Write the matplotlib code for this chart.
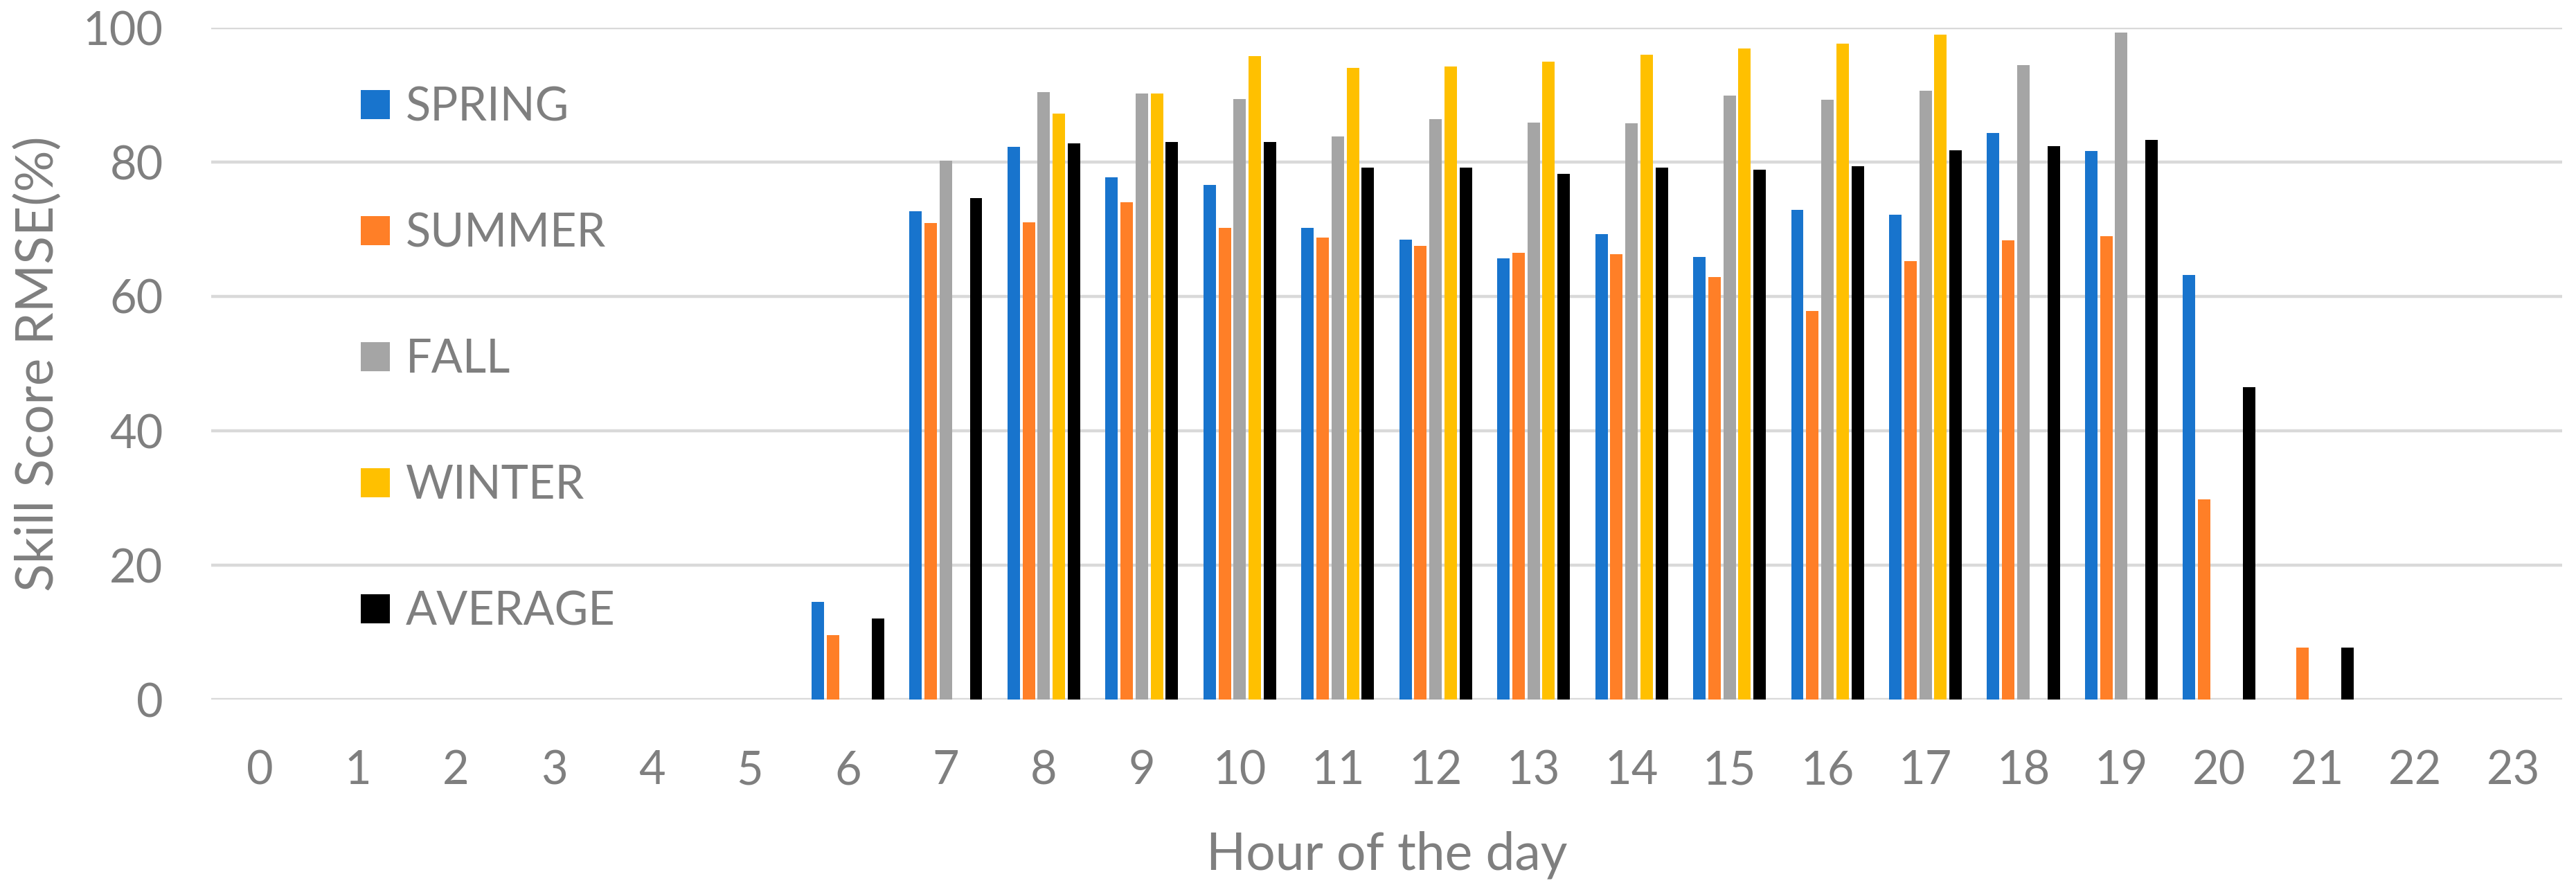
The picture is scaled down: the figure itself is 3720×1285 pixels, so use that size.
import numpy as np
import matplotlib.pyplot as plt

hours = [str(h) for h in range(24)]
seasons = ["SPRING", "SUMMER", "FALL", "WINTER", "AVERAGE"]
spring = [0, 0, 0, 0, 0, 0, 14.5, 72.7, 82.3, 77.7, 76.6, 70.2, 68.5, 65.7, 69.3, 65.9, 72.9, 72.2, 84.3, 81.6, 63.2, 0, 0, 0]
summer = [0, 0, 0, 0, 0, 0, 9.6, 70.9, 71.0, 74.0, 70.2, 68.8, 67.5, 66.5, 66.3, 62.9, 57.8, 65.3, 68.3, 69.0, 29.8, 7.7, 0, 0]
fall = [0, 0, 0, 0, 0, 0, 0, 80.2, 90.4, 90.2, 89.4, 83.8, 86.4, 85.9, 85.8, 89.9, 89.3, 90.6, 94.4, 99.3, 0, 0, 0, 0]
winter = [0, 0, 0, 0, 0, 0, 0, 0, 87.2, 90.2, 95.8, 94.0, 94.2, 94.9, 96.0, 96.9, 97.6, 99.0, 0, 0, 0, 0, 0, 0]
average = [0, 0, 0, 0, 0, 0, 12.1, 74.6, 82.8, 83.0, 83.0, 79.2, 79.2, 78.2, 79.2, 78.9, 79.4, 81.8, 82.4, 83.3, 46.5, 7.7, 0, 0]

colors = ["#1874CD", "#FF7F27", "#A5A5A5", "#FFC000", "#000000"]
series = [spring, summer, fall, winter, average]
txt = "#7F7F7F"

plt.rcParams['font.family'] = ['Lato', 'DejaVu Sans']

fig = plt.figure(figsize=(37.2, 12.85), dpi=100)
ax = fig.add_axes([305 / 3720, 1 - 1010 / 1285, 3395 / 3720, 970 / 1285])

x = np.arange(len(hours))
slot = 0.154
for i, (vals, name) in enumerate(zip(series, seasons)):
    ax.bar(x + (i - 2) * slot, vals, width=0.127, color=colors[i], label=name, zorder=3, linewidth=0)

ax.set_xlim(-0.5, 23.5)
ax.set_ylim(0, 100)
ax.set_yticks(range(0, 101, 20))
ax.set_xticks(x)
ax.set_xticklabels(hours)
ax.yaxis.grid(True, color="#D9D9D9", linewidth=3.2, zorder=0)
ax.set_axisbelow(True)
for s in ax.spines.values():
    s.set_visible(False)
ax.tick_params(axis="both", length=0, labelsize=48, colors=txt)
ax.tick_params(axis="x", pad=52)
ax.tick_params(axis="y", pad=50)
ax.set_xlabel("Hour of the day", fontsize=54, color=txt, labelpad=40)
ax.set_ylabel("Skill Score RMSE(%)", fontsize=54, color=txt, labelpad=21)

leg = ax.legend(loc="upper left", bbox_to_anchor=(0.0636, 0.913), frameon=False,
                fontsize=48, labelspacing=1.8, handlelength=0.63, handleheight=0.6,
                handletextpad=0.35, borderpad=0, borderaxespad=0)
for t in leg.get_texts():
    t.set_color(txt)

fig.savefig("out.png", dpi=100, facecolor="white")
